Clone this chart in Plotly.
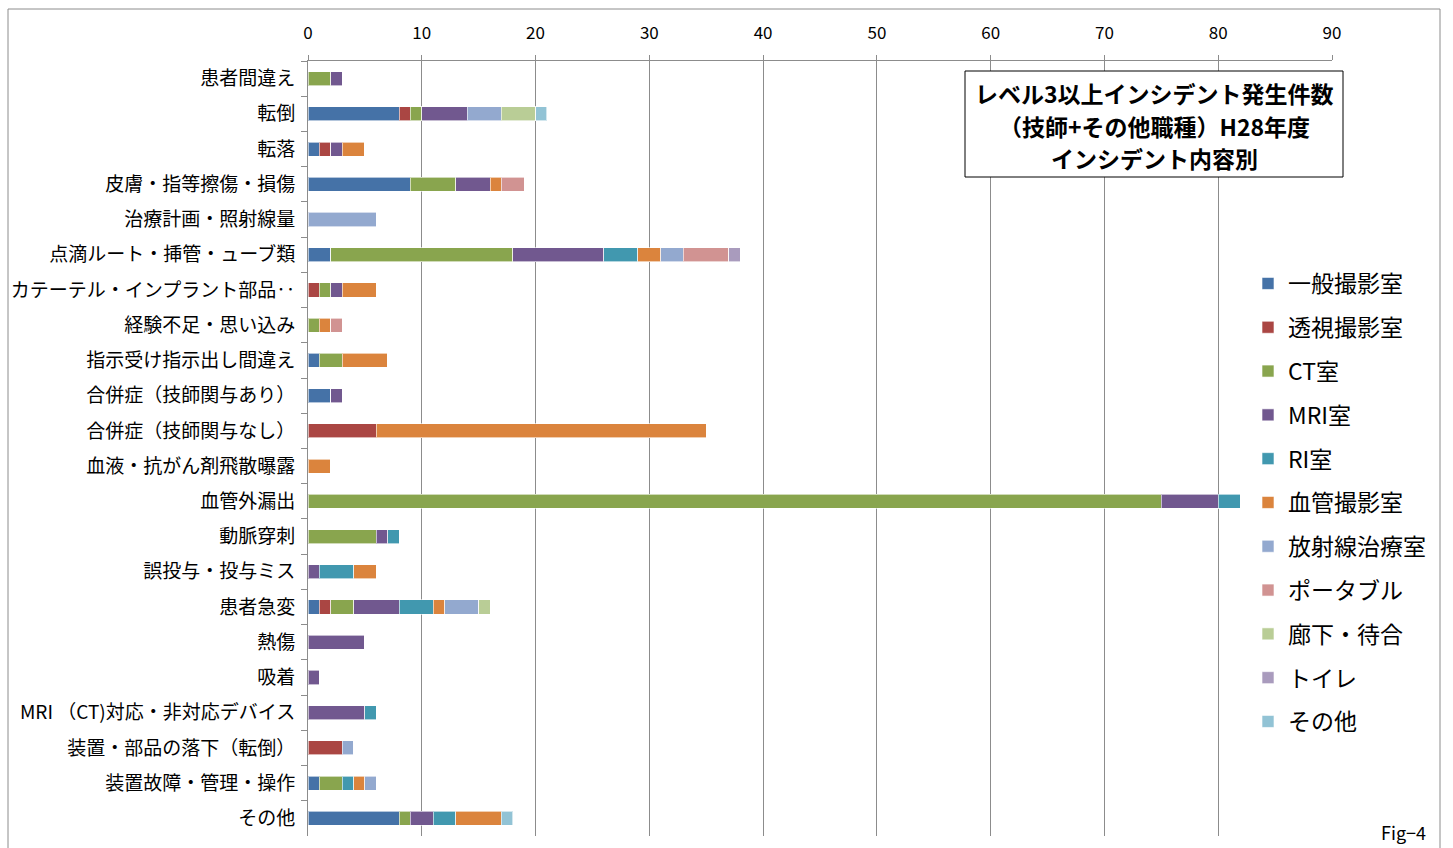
import plotly.graph_objects as go

categories = [
    "患者間違え", "転倒", "転落", "皮膚・指等擦傷・損傷", "治療計画・照射線量",
    "点滴ルート・挿管・ューブ類", "カテーテル・インプラント部品‥", "経験不足・思い込み",
    "指示受け指示出し間違え", "合併症（技師関与あり）", "合併症（技師関与なし）",
    "血液・抗がん剤飛散曝露", "血管外漏出", "動脈穿刺", "誤投与・投与ミス", "患者急変",
    "熱傷", "吸着", "MRI （CT)対応・非対応デバイス", "装置・部品の落下（転倒）",
    "装置故障・管理・操作", "その他",
]

series_names = ["一般撮影室", "透視撮影室", "CT室", "MRI室", "RI室", "血管撮影室",
                "放射線治療室", "ポータブル", "廊下・待合", "トイレ", "その他"]

ippan    = [0, 8, 1, 9, 0, 2, 0, 0, 1, 2, 0, 0, 0, 0, 0, 1, 0, 0, 0, 0, 1, 8]
toushi   = [0, 1, 1, 0, 0, 0, 1, 0, 0, 0, 6, 0, 0, 0, 0, 1, 0, 0, 0, 3, 0, 0]
ct       = [2, 1, 0, 4, 0, 16, 1, 1, 2, 0, 0, 0, 75, 6, 0, 2, 0, 0, 0, 0, 2, 1]
mri      = [1, 4, 1, 3, 0, 8, 1, 0, 0, 1, 0, 0, 5, 1, 1, 4, 5, 1, 5, 0, 0, 2]
ri       = [0, 0, 0, 0, 0, 3, 0, 0, 0, 0, 0, 0, 2, 1, 3, 3, 0, 0, 1, 0, 1, 2]
kekkan   = [0, 0, 2, 1, 0, 2, 3, 1, 4, 0, 29, 2, 0, 0, 2, 1, 0, 0, 0, 0, 1, 4]
houshasen= [0, 3, 0, 0, 6, 2, 0, 0, 0, 0, 0, 0, 0, 0, 0, 3, 0, 0, 0, 1, 1, 0]
portable = [0, 0, 0, 2, 0, 4, 0, 1, 0, 0, 0, 0, 0, 0, 0, 0, 0, 0, 0, 0, 0, 0]
rouka    = [0, 3, 0, 0, 0, 0, 0, 0, 0, 0, 0, 0, 0, 0, 0, 1, 0, 0, 0, 0, 0, 0]
toilet   = [0, 0, 0, 0, 0, 1, 0, 0, 0, 0, 0, 0, 0, 0, 0, 0, 0, 0, 0, 0, 0, 0]
sonota   = [0, 1, 0, 0, 0, 0, 0, 0, 0, 0, 0, 0, 0, 0, 0, 0, 0, 0, 0, 0, 0, 1]

series_values = [ippan, toushi, ct, mri, ri, kekkan, houshasen, portable, rouka, toilet, sonota]
colors = ["#4572A7", "#AA4643", "#89A54E", "#71588F", "#4198AF", "#DB843D",
          "#93A9CF", "#D19392", "#B9CD96", "#A99BBD", "#92C3D5"]

x_ticks = [0, 10, 20, 30, 40, 50, 60, 70, 80, 90]

title_lines = ["レベル3以上インシデント発生件数", "（技師+その他職種）H28年度", "インシデント内容別"]
fig_label = "Fig−4"

FONT = "Noto Sans CJK JP"
GRID = "#8C8C8C"

fig = go.Figure()
for name, vals, col in zip(series_names, series_values, colors):
    fig.add_trace(go.Bar(
        y=categories, x=vals, name=name, orientation="h",
        marker=dict(color=col, line=dict(color="rgba(255,255,255,0.6)", width=1)),
        legendgroup=name,
    ))

W, H = 1453, 848
L, R, T, B = 308, 1332, 61, 836

def px(xp):
    return (xp - L) / (R - L)

def py(yp):
    return (B - yp) / (B - T)

annotations = []
for i, line in enumerate(title_lines):
    annotations.append(dict(
        text="<b>" + line + "</b>", xref="paper", yref="paper",
        x=px(1154), y=py(93 + 32.5 * i), xanchor="center", yanchor="middle",
        showarrow=False, font=dict(size=23, family=FONT, color="black"),
    ))
annotations.append(dict(
    text=fig_label, xref="paper", yref="paper", x=px(1428), y=py(832),
    xanchor="right", yanchor="middle", showarrow=False,
    font=dict(size=18, family=FONT, color="black"),
))

fig.update_layout(
    width=W, height=H,
    margin=dict(l=L, r=W - R, t=T, b=H - B, autoexpand=False),
    barmode="stack", bargap=0.6,
    plot_bgcolor="white", paper_bgcolor="white",
    font=dict(family=FONT, color="black"),
    showlegend=True,
    legend=dict(
        x=px(1248), y=py(262), xanchor="left", yanchor="top",
        bgcolor="white", font=dict(size=23, family=FONT),
        traceorder="grouped", tracegroupgap=10.9,
        itemwidth=30,
    ),
    xaxis=dict(
        side="top", range=[0, 90], tickvals=x_ticks,
        showgrid=True, gridcolor=GRID, gridwidth=1,
        showline=True, linecolor=GRID, linewidth=1,
        ticks="outside", ticklen=5, tickcolor=GRID,
        ticklabelstandoff=9,
        tickfont=dict(size=17, family=FONT),
        zeroline=False, fixedrange=True,
    ),
    yaxis=dict(
        autorange="reversed", showgrid=False,
        showline=True, linecolor=GRID, linewidth=1,
        ticks="outside", ticklen=6, tickcolor=GRID, tickson="boundaries",
        ticklabelstandoff=8,
        tickfont=dict(size=19, family=FONT),
        fixedrange=True,
    ),
    shapes=[
        dict(type="rect", xref="paper", yref="paper",
             x0=px(8), x1=px(1440), y0=py(852), y1=py(9),
             line=dict(color=GRID, width=1), fillcolor="rgba(0,0,0,0)", layer="below"),
        dict(type="rect", xref="paper", yref="paper",
             x0=px(965), x1=px(1343), y0=py(177), y1=py(71),
             line=dict(color="black", width=1), fillcolor="white", layer="above"),
    ],
    annotations=annotations,
)

fig.write_html("out.html", config={"displayModeBar": False},
               post_script="document.body.style.margin='0';")
